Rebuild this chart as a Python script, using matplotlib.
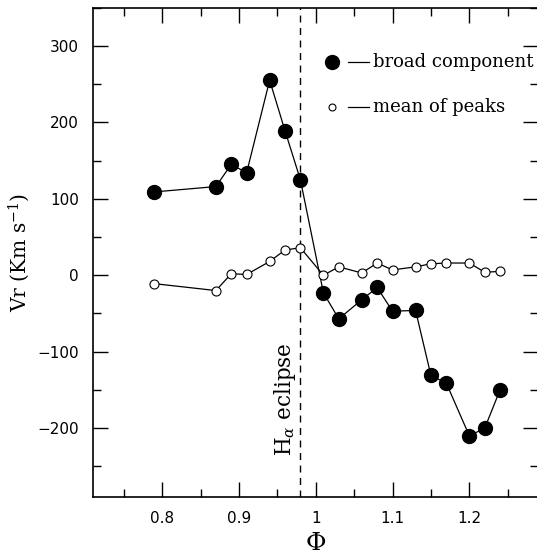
import matplotlib.pyplot as plt
from matplotlib.ticker import MultipleLocator

# broad component (filled circles)
broad_phase = [0.79, 0.87, 0.89, 0.91, 0.94, 0.96, 0.98, 1.01, 1.03, 1.06,
               1.08, 1.10, 1.13, 1.15, 1.17, 1.20, 1.22, 1.24]
broad_vr = [109, 116, 145, 134, 255, 189, 125, -23, -57, -32,
            -16, -47, -46, -131, -141, -210, -200, -150]

# mean of peaks (open circles)
peaks_phase = [0.79, 0.87, 0.89, 0.91, 0.94, 0.96, 0.98, 1.01, 1.03, 1.06,
               1.08, 1.10, 1.13, 1.15, 1.17, 1.20, 1.22, 1.24]
peaks_vr = [-11, -20, 2, 1, 18, 33, 36, 0, 11, 3,
            16, 7, 11, 15, 16, 16, 4, 5]

eclipse_phase = 0.98

SERIF = "DejaVu Serif"
SANS = "DejaVu Sans"
plt.rcParams["mathtext.fontset"] = "dejavuserif"

fig = plt.figure(figsize=(5.37, 5.57), dpi=100)
ax = fig.add_axes([0.1732, 0.1077, 0.8295, 0.8786])

ax.plot(broad_phase, broad_vr, "-o", color="black", linewidth=0.9,
        markersize=10, markerfacecolor="black", zorder=3)
ax.plot(peaks_phase, peaks_vr, "-o", color="black", linewidth=0.9,
        markersize=6.5, markerfacecolor="white", markeredgewidth=0.8, zorder=3)

ax.axvline(eclipse_phase, color="black", linestyle=(0, (5, 4)), linewidth=1.0)
ax.text(0.9595, -236, r"H$_\alpha$ eclipse", rotation=90, ha="center",
        va="bottom", fontsize=15.5, family=SERIF)

# legend drawn by hand: marker, short line, label
ax.plot([0.537], [0.889], "o", color="black", markersize=10,
        transform=ax.transAxes, clip_on=False)
ax.plot([0.573, 0.620], [0.889, 0.889], color="black", linewidth=0.9,
        transform=ax.transAxes)
ax.text(0.629, 0.889, "broad component", transform=ax.transAxes,
        ha="left", va="center", fontsize=13, family=SERIF)
ax.plot([0.537], [0.797], "o", color="black", markersize=5,
        markerfacecolor="white", markeredgewidth=0.8, transform=ax.transAxes)
ax.plot([0.573, 0.620], [0.797, 0.797], color="black", linewidth=0.9,
        transform=ax.transAxes)
ax.text(0.629, 0.797, "mean of peaks", transform=ax.transAxes,
        ha="left", va="center", fontsize=13, family=SERIF)

ax.set_xlim(0.71, 1.29)
ax.set_ylim(-290, 350)
ax.xaxis.set_major_locator(MultipleLocator(0.1))
ax.xaxis.set_minor_locator(MultipleLocator(0.05))
ax.yaxis.set_major_locator(MultipleLocator(100))
ax.yaxis.set_minor_locator(MultipleLocator(50))
ax.set_xticks([0.8, 0.9, 1.0, 1.1, 1.2])
ax.set_xticklabels(["0.8", "0.9", "1", "1.1", "1.2"])

ax.tick_params(which="both", direction="in", top=True, right=True,
               labelsize=11, width=1.0)
ax.tick_params(which="major", length=11, pad=10)
ax.tick_params(which="minor", length=6)
for lab in ax.get_xticklabels() + ax.get_yticklabels():
    lab.set_family(SANS)
for sp in ax.spines.values():
    sp.set_linewidth(1.2)

ax.set_xlabel(r"$\Phi$", fontsize=18, labelpad=4)
ax.set_ylabel(r"Vr (Km s$^{-1}$)", fontsize=14.5, family=SERIF, labelpad=4)

fig.savefig("out.png", dpi=100)
